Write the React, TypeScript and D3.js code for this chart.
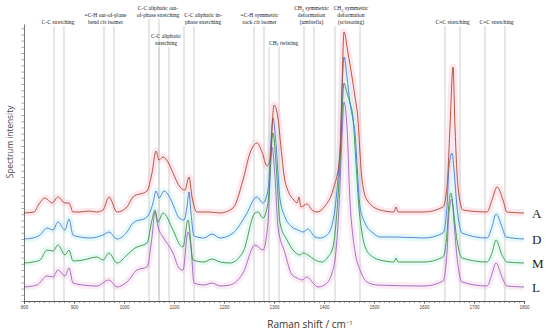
import React, { useEffect, useRef } from "react";
import * as d3 from "d3";

type Pt = [number, number];

// Raman spectra, [wavenumber cm-1, intensity above own baseline]
const seriesNames = ["A", "D", "M", "L"];
const seriesOffsets = [8.8, 6.2, 3.8, 1.4];
const seriesColors = ["#b0452a", "#4d76d6", "#3f8f3c", "#9a62c2"];
const bandColors = ["#fbd6e2", "#cdf6f6", "#d3f7ef", "#f8dcec"];

const spectrumA: Pt[] = [
  [800, 0], [820, 0.1], [830, 0.9], [842, 1.5], [856, 1.0], [868, 1.6], [882, 1.0], [890, 1.0],
  [898, 0.1], [912, 0.1], [930, 0.2], [945, 0.1], [958, 0.3], [970, 1.6], [986, 0.1], [1006, 0.6],
  [1018, 1.6], [1046, 2.2], [1056, 4.0], [1064, 6.2], [1070, 5.3], [1078, 5.6], [1088, 5.1],
  [1098, 4.0], [1112, 2.6], [1122, 2.3], [1130, 3.6], [1136, 1.6], [1146, 0.1], [1170, 0.1],
  [1192, 0], [1218, 0.5], [1238, 3.3], [1252, 6.0], [1266, 7.0], [1276, 6.1], [1286, 4.7],
  [1292, 5.3], [1300, 10.8], [1308, 9.5], [1314, 6.5], [1320, 3.8], [1330, 2.0], [1340, 1.3],
  [1346, 1.0], [1350, 1.6], [1354, 0.6], [1366, 0.9], [1376, 0.3], [1386, 0.1], [1402, 0.7],
  [1418, 2.3], [1432, 5.8], [1436, 12.6], [1440, 18.1], [1448, 16.0], [1456, 13.6], [1462, 11.6],
  [1468, 9.3], [1472, 6.0], [1476, 3.3], [1486, 1.3], [1512, 0.3], [1540, 0.1], [1544, 0.6],
  [1548, 0.1], [1600, 0.1], [1638, 0.6], [1646, 2.6], [1652, 8.6], [1658, 14.6], [1662, 8.6],
  [1668, 2.6], [1678, 0.3], [1726, 0.1], [1736, 1.3], [1746, 2.6], [1758, 1.3], [1766, 0.1], [1800, 0],
];

const spectrumD: Pt[] = [
  [800, 0], [818, 0.1], [832, 0.4], [846, 1.1], [858, 0.9], [868, 1.7], [882, 0.9], [890, 2.0],
  [898, 0.4], [912, 0.2], [932, 0.1], [958, 0.4], [970, 0.7], [986, 0], [1006, 0.7], [1018, 1.6],
  [1046, 2.2], [1058, 3.6], [1064, 4.8], [1070, 4.1], [1080, 4.8], [1090, 4.3], [1100, 3.2],
  [1110, 2.1], [1120, 1.9], [1126, 3.2], [1130, 4.7], [1134, 2.6], [1140, 0.3], [1160, 0.1],
  [1176, 0.5], [1192, 0.1], [1218, 0.6], [1246, 2.6], [1262, 4.1], [1266, 4.2], [1278, 3.6],
  [1288, 4.9], [1298, 12.1], [1304, 9.5], [1312, 4.0], [1322, 2.2], [1336, 1.2], [1348, 0.9],
  [1358, 0.7], [1368, 1.0], [1382, 0.2], [1392, 0.1], [1406, 0.4], [1416, 1.4], [1424, 3.9],
  [1432, 9.0], [1440, 18.2], [1446, 16.2], [1452, 13.6], [1458, 11.9], [1462, 10.6], [1466, 7.5],
  [1472, 3.2], [1482, 1.6], [1498, 0.6], [1512, 0.2], [1544, 0.2], [1600, 0.1], [1638, 0.6],
  [1646, 3.2], [1650, 7.2], [1656, 8.6], [1660, 6.9], [1666, 3.2], [1676, 0.6], [1726, 0.1],
  [1736, 1.2], [1744, 2.5], [1756, 1.2], [1764, 0.2], [1800, 0],
];

const spectrumM: Pt[] = [
  [800, 0], [818, 0.1], [832, 0.3], [846, 1.3], [858, 1.2], [868, 1.8], [882, 0.8], [890, 1.3],
  [898, 0.2], [918, 0.3], [946, 0.6], [958, 0.3], [970, 1.0], [986, 0], [1006, 0.8], [1022, 1.5],
  [1046, 2.0], [1056, 4.3], [1062, 5.3], [1068, 4.1], [1078, 5.0], [1098, 3.3], [1112, 1.8],
  [1118, 1.6], [1128, 4.3], [1138, 0.3], [1160, 0.1], [1176, 0.4], [1192, 0.1], [1212, 0],
  [1238, 1.1], [1262, 5.0], [1268, 5.1], [1278, 4.5], [1288, 6.0], [1298, 13.0], [1304, 10.0],
  [1312, 4.0], [1326, 2.3], [1338, 1.3], [1352, 0.8], [1358, 1.0], [1368, 0.8], [1382, 0.3],
  [1396, 0.1], [1408, 0.6], [1418, 1.6], [1424, 4.0], [1432, 10.0], [1440, 18.0], [1446, 17.0],
  [1452, 16.0], [1458, 14.5], [1464, 10.0], [1470, 5.5], [1476, 3.0], [1484, 1.4], [1498, 0.6],
  [1512, 0.3], [1540, 0.1], [1544, 0.5], [1548, 0.1], [1600, 0.1], [1638, 0.6], [1646, 3.0],
  [1650, 6.0], [1654, 7.0], [1658, 5.6], [1666, 2.3], [1676, 0.5], [1726, 0.1], [1736, 1.0],
  [1744, 2.3], [1756, 0.8], [1766, 0.1], [1800, 0],
];

const spectrumL: Pt[] = [
  [800, 0], [826, 0.2], [846, 1.1], [858, 1.0], [868, 1.7], [882, 1.1], [890, 1.9], [898, 0.4],
  [918, 0.2], [946, 0.1], [970, 0.7], [986, 0], [1006, 0.5], [1026, 1.7], [1046, 2.0], [1056, 5.0],
  [1062, 7.5], [1068, 6.0], [1078, 5.0], [1098, 3.4], [1110, 1.9], [1118, 1.7], [1128, 5.5],
  [1134, 4.0], [1140, 0.4], [1160, 0.2], [1176, 0.4], [1192, 0.1], [1212, 0.2], [1238, 1.4],
  [1262, 4.2], [1278, 3.7], [1288, 6.5], [1296, 14.0], [1302, 11.0], [1308, 6.0], [1322, 3.4],
  [1336, 1.2], [1346, 0.9], [1356, 0.7], [1366, 1.0], [1378, 0.4], [1388, 0], [1406, 0.4],
  [1416, 1.4], [1422, 2.7], [1430, 8.0], [1436, 15.0], [1440, 18.5], [1446, 16.0], [1452, 8.5],
  [1458, 5.0], [1464, 3.0], [1472, 1.7], [1486, 0.5], [1506, 0.2], [1600, 0.1], [1638, 0.6],
  [1646, 3.5], [1650, 7.5], [1656, 8.8], [1660, 6.5], [1666, 3.0], [1676, 0.5], [1726, 0.1],
  [1736, 1.3], [1744, 2.4], [1756, 1.0], [1766, 0.1], [1800, 0],
];

const spectra = [spectrumA, spectrumD, spectrumM, spectrumL];

const xTicks = [800, 900, 1000, 1100, 1200, 1300, 1400, 1500, 1600, 1700, 1800];

// band assignments: edges (cm-1), label lines, label centre (cm-1)
// "_2" marks a subscript 2, "cis" is set in italics
const bandEdges: Pt[] = [
  [860, 880], [960, 980], [1050, 1070], [1070, 1090], [1120, 1140], [1260, 1280],
  [1290, 1310], [1360, 1380], [1422, 1472], [1642, 1672], [1722, 1762],
];
const bandText: string[][] = [
  ["C-C stretching"],
  ["=C-H out-of-plane", "bend cis isomer"],
  ["C-C aliphatic out-", "of-phase stretching"],
  ["C-C aliphatic", "stretching"],
  ["C-C aliphatic in-", "phase stretching"],
  ["=C-H symmetric", "rock cis isomer"],
  ["CH_2 twisting"],
  ["CH_2 symmetric", "deformation", "(umbrella)"],
  ["CH_2 symmetric", "deformation", "(scissoring)"],
  ["C=C stretching"],
  ["C=C stretching"],
];
const bandTextAt = [868, 963, 1068, 1084, 1158, 1271, 1319, 1375, 1454, 1657, 1745];
const bandTier = [0, 0, -1, 3, 0, 0, 3, 0, 0, 0, 0];

const width = 550;
const height = 334;
const MARGIN = { top: 24, right: 26, bottom: 33, left: 24 };

const richText = (s: string) => {
  const parts = s.split(/(cis|_2)/);
  return parts.map((p, i) => {
    if (p === "cis") return <tspan key={i} fontStyle="italic">cis</tspan>;
    if (p === "_2") return <tspan key={i} fontSize={3.8} dy={1.2}>2</tspan>;
    // undo the subscript shift for the text that follows
    if (i > 0 && parts[i - 1] === "_2") return <tspan key={i} dy={-1.2}>{p}</tspan>;
    return <React.Fragment key={i}>{p}</React.Fragment>;
  });
};

const App = () => {
  const xAxisRef = useRef<SVGGElement>(null);
  const yAxisRef = useRef<SVGGElement>(null);

  const xScale = d3.scaleLinear().domain([800, 1800]).range([MARGIN.left, width - MARGIN.right]);
  const yScale = d3.scaleLinear().domain([0, 27.7]).range([height - MARGIN.bottom, MARGIN.top]);
  const axisY = height - MARGIN.bottom;

  useEffect(() => {
    const gx = d3.select(xAxisRef.current);
    gx.selectAll("*").remove();
    gx.append("g").call(d3.axisBottom(xScale).tickValues(d3.range(800, 1801, 10)).tickSize(2).tickFormat(() => ""));
    gx.append("g").call(d3.axisBottom(xScale).tickValues(xTicks).tickSize(3).tickFormat(d3.format("d")));
    gx.selectAll("path").attr("stroke", "#555").attr("stroke-width", 0.8);
    gx.selectAll("line").attr("stroke", "#555").attr("stroke-width", 0.6);
    gx.selectAll("text").attr("font-size", 4.6).attr("font-family", "Liberation Sans, sans-serif").attr("fill", "#444").attr("dy", "0.5em");

    const gy = d3.select(yAxisRef.current);
    gy.selectAll("*").remove();
    gy.call(d3.axisLeft(yScale).tickValues(d3.range(0, 27.75, 0.62)).tickSize(2.5).tickSizeOuter(0).tickFormat(() => ""));
    gy.selectAll("path").attr("stroke", "#555").attr("stroke-width", 0.8);
    gy.selectAll("line").attr("stroke", "#666").attr("stroke-width", 0.6);
  }, []);

  const lineFor = (off: number) =>
    d3.line<Pt>()
      .x((d) => xScale(d[0]))
      .y((d) => yScale(d[1] + off))
      .curve(d3.curveMonotoneX);

  const order = [3, 2, 1, 0];

  return (
    <svg width={width} height={height} style={{ position: "absolute", left: 0, top: 0, background: "#fff" }}>
      {/* envelope shading */}
      {order.map((i) => (
        <path key={"b" + i} d={lineFor(seriesOffsets[i])(spectra[i]) || ""} fill="none"
          stroke={bandColors[i]} strokeWidth={7} opacity={0.55} />
      ))}

      {/* band marker lines */}
      {bandEdges.map((e, i) => {
        const top = 24 + bandTier[i] * 7 + 2;
        return e.map((v, j) => (
          <line key={`l${i}-${j}`} x1={xScale(v)} x2={xScale(v)} y1={top} y2={axisY}
            stroke="#c9c9c9" strokeWidth={0.9} />
        ));
      })}

      {order.map((i) => (
        <path key={"s" + i} d={lineFor(seriesOffsets[i])(spectra[i]) || ""} fill="none"
          stroke={seriesColors[i]} strokeWidth={0.9} />
      ))}

      {/* band labels */}
      {bandText.map((lines, i) => {
        const lastBase = 24 + bandTier[i] * 7;
        return (
          <g key={"t" + i}>
            {lines.map((ln, k) => (
              <text key={k} x={xScale(bandTextAt[i])} y={lastBase - (lines.length - 1 - k) * 6.8}
                textAnchor="middle" fontSize={5.6} fontFamily="Liberation Serif, serif" fill="#222">
                {richText(ln)}
              </text>
            ))}
          </g>
        );
      })}

      {/* series labels */}
      {seriesNames.map((n, i) => (
        <text key={n} x={532} y={yScale(seriesOffsets[i]) + 4.5} fontSize={13}
          fontFamily="Liberation Serif, serif" fill="#222">{n}</text>
      ))}

      <g ref={xAxisRef} transform={`translate(0, ${axisY})`} />
      <g ref={yAxisRef} transform={`translate(${MARGIN.left}, 0)`} />

      <text x={310} y={328} textAnchor="middle" fontSize={10} fontFamily="Open Sans, sans-serif" fill="#333">
        Raman shift / cm<tspan dy={-3.5} fontSize={6}>−1</tspan>
      </text>
      <text transform={`translate(13, 142) rotate(-90)`} textAnchor="middle" fontSize={8.3}
        fontFamily="Open Sans, sans-serif" fill="#444">Spectrum intensity</text>
    </svg>
  );
};

export default App;
